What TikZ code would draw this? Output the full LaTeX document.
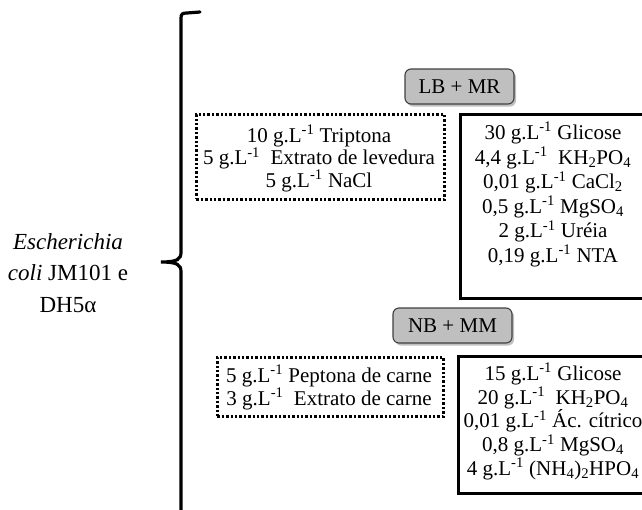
\documentclass[tikz,border=0pt]{standalone}
\usepackage{fontspec}
\setmainfont{Liberation Serif}
\usetikzlibrary{shadows}
\newcommand{\gpl}{g.L\textsuperscript{-1}}
\begin{document}
\begin{tikzpicture}[x=1pt,y=-1pt,
  txt/.style={inner sep=0pt, align=center},
  dotbox/.style={draw, line width=2.6pt, dash pattern=on 2.4pt off 2pt, inner sep=0pt, anchor=north west},
  solidbox/.style={draw, line width=2.9pt, inner sep=0pt, anchor=north west},
  medium/.style={draw=black!75, line width=1.1pt, fill=black!25, rounded corners=6pt, inner sep=0pt,
    font=\fontsize{21}{24}\selectfont,
    drop shadow={shadow xshift=2pt, shadow yshift=-2.5pt, fill=black!50, opacity=0.5}},
  bracepath/.style={line width=3.2pt, line cap=round},
]
\useasboundingbox (0,0) rectangle (642,509);
\clip (0,0) rectangle (642,509);

% left label
\node[txt, font=\fontsize{23}{31.5}\selectfont] (ec) at (68,273)
  {\textit{Escherichia}\\\textit{coli} JM101 e\\DH5α};

% brace
\coordinate (btop) at (200,12);
\coordinate (btip) at (161,262);
\coordinate (bbot) at (181,520);
\draw[bracepath] (btop) -- (187,13) .. controls (182.5,13) and (181,14) .. (181,18)
  -- (181,252) .. controls (181,259) and (178,262) .. (btip)
  .. controls (178,262) and (181,265) .. (181,272) -- (bbot);

% LB + MR
\node[medium, minimum width=109pt, minimum height=35pt] (lbmr) at (459.5,86.5) {LB + MR};
\node[dotbox, minimum width=248pt, minimum height=85pt] (d1) at (195,113) {};
\node[txt, anchor=north, font=\fontsize{21}{22.5}\selectfont] (t1) at (319,125)
  {10 \gpl{} Triptona\\5 \gpl{}\ \ Extrato de levedura\\5 \gpl{} NaCl};
\node[solidbox, minimum width=190pt, minimum height=184pt] (s1) at (459,113) {};
\node[txt, anchor=north, font=\fontsize{21}{24.6}\selectfont] (u1) at (553,122)
  {30 \gpl{} Glicose\\4,4 \gpl{}\ \ KH\textsubscript{2}PO\textsubscript{4}\\0,01 \gpl{} CaCl\textsubscript{2}\\0,5 \gpl{} MgSO\textsubscript{4}\\2 \gpl{} Uréia\\0,19 \gpl{} NTA};

% NB + MM
\node[medium, minimum width=119pt, minimum height=35pt] (nbmm) at (452.5,325.5) {NB + MM};
\node[dotbox, minimum width=226pt, minimum height=59pt] (d2) at (216,356) {};
\node[txt, anchor=north, font=\fontsize{21}{23}\selectfont] (t2) at (329,365)
  {5 \gpl{} Peptona de carne\\3 \gpl{}\ \ Extrato de carne};
\node[solidbox, minimum width=192pt, minimum height=137pt] (s2) at (457,355) {};
\node[txt, anchor=north, font=\fontsize{21}{23.75}\selectfont] (u2) at (553,363)
  {15 \gpl{} Glicose\\20 \gpl{}\ \ KH\textsubscript{2}PO\textsubscript{4}\\0,01 \gpl{} Ác. cítrico\\0,8 \gpl{} MgSO\textsubscript{4}\\4 \gpl{} (NH\textsubscript{4})\textsubscript{2}HPO\textsubscript{4}};
\end{tikzpicture}
\end{document}
